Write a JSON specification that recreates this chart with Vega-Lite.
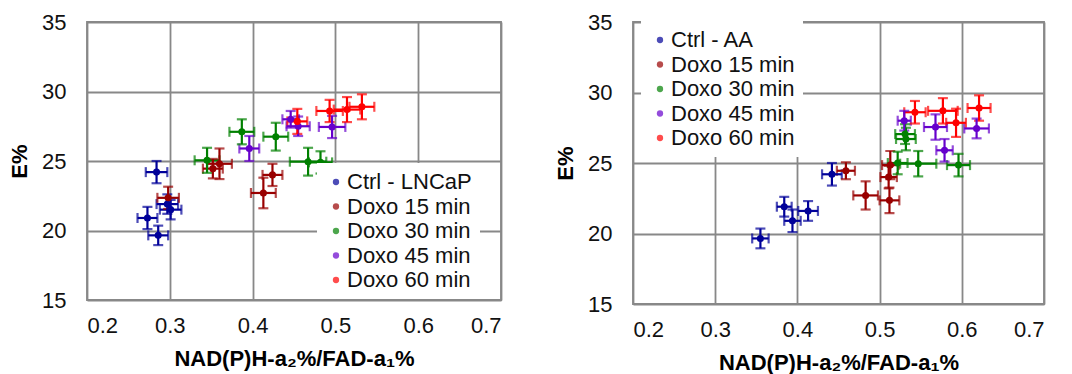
{
  "$schema": "https://vega.github.io/schema/vega-lite/v6.json",
  "padding": {"left": 7, "top": 10, "right": 5, "bottom": 0},
  "background": "white",
  "spacing": 51,
  "datasets": {
    "a": [
      {"g": "Ctrl - LNCaP", "x": 0.284, "y": 24.2, "ex": 0.013, "ey": 0.8},
      {"g": "Ctrl - LNCaP", "x": 0.297, "y": 21.9, "ex": 0.013, "ey": 0.7},
      {"g": "Ctrl - LNCaP", "x": 0.301, "y": 21.5, "ex": 0.013, "ey": 0.7},
      {"g": "Ctrl - LNCaP", "x": 0.273, "y": 20.9, "ex": 0.012, "ey": 0.8},
      {"g": "Ctrl - LNCaP", "x": 0.286, "y": 19.65, "ex": 0.012, "ey": 0.7},
      {"g": "Doxo 15 min", "x": 0.298, "y": 22.35, "ex": 0.013, "ey": 0.8},
      {"g": "Doxo 15 min", "x": 0.352, "y": 24.45, "ex": 0.012, "ey": 0.7},
      {"g": "Doxo 15 min", "x": 0.36, "y": 24.8, "ex": 0.015, "ey": 1.1},
      {"g": "Doxo 15 min", "x": 0.413, "y": 22.7, "ex": 0.015, "ey": 1.1},
      {"g": "Doxo 15 min", "x": 0.424, "y": 24.0, "ex": 0.012, "ey": 0.8},
      {"g": "Doxo 30 min", "x": 0.345, "y": 25.05, "ex": 0.015, "ey": 0.9},
      {"g": "Doxo 30 min", "x": 0.387, "y": 27.1, "ex": 0.015, "ey": 0.9},
      {"g": "Doxo 30 min", "x": 0.428, "y": 26.75, "ex": 0.015, "ey": 1.0},
      {"g": "Doxo 30 min", "x": 0.467, "y": 24.95, "ex": 0.022, "ey": 1.0},
      {"g": "Doxo 30 min", "x": 0.482, "y": 24.9, "ex": 0.014, "ey": 0.8},
      {"g": "Doxo 45 min", "x": 0.396, "y": 25.9, "ex": 0.012, "ey": 0.9},
      {"g": "Doxo 45 min", "x": 0.446, "y": 28.0, "ex": 0.01, "ey": 0.6},
      {"g": "Doxo 45 min", "x": 0.455, "y": 27.5, "ex": 0.014, "ey": 0.7},
      {"g": "Doxo 45 min", "x": 0.496, "y": 27.45, "ex": 0.016, "ey": 0.8},
      {"g": "Doxo 60 min", "x": 0.454, "y": 27.85, "ex": 0.012, "ey": 0.9},
      {"g": "Doxo 60 min", "x": 0.493, "y": 28.6, "ex": 0.016, "ey": 0.8},
      {"g": "Doxo 60 min", "x": 0.514, "y": 28.7, "ex": 0.016, "ey": 0.9},
      {"g": "Doxo 60 min", "x": 0.532, "y": 28.9, "ex": 0.015, "ey": 0.9}
    ],
    "b": [
      {"g": "Ctrl - AA", "x": 0.355, "y": 19.65, "ex": 0.01, "ey": 0.7},
      {"g": "Ctrl - AA", "x": 0.384, "y": 21.9, "ex": 0.009, "ey": 0.7},
      {"g": "Ctrl - AA", "x": 0.394, "y": 20.9, "ex": 0.01, "ey": 0.8},
      {"g": "Ctrl - AA", "x": 0.413, "y": 21.6, "ex": 0.012, "ey": 0.7},
      {"g": "Ctrl - AA", "x": 0.442, "y": 24.2, "ex": 0.012, "ey": 0.8},
      {"g": "Doxo 15 min", "x": 0.459, "y": 24.45, "ex": 0.011, "ey": 0.6},
      {"g": "Doxo 15 min", "x": 0.483, "y": 22.7, "ex": 0.015, "ey": 1.0},
      {"g": "Doxo 15 min", "x": 0.512, "y": 22.35, "ex": 0.012, "ey": 0.9},
      {"g": "Doxo 15 min", "x": 0.511, "y": 24.0, "ex": 0.01, "ey": 0.8},
      {"g": "Doxo 15 min", "x": 0.513, "y": 24.85, "ex": 0.01, "ey": 1.0},
      {"g": "Doxo 30 min", "x": 0.522, "y": 25.0, "ex": 0.012, "ey": 0.8},
      {"g": "Doxo 30 min", "x": 0.531, "y": 27.05, "ex": 0.012, "ey": 0.7},
      {"g": "Doxo 30 min", "x": 0.532, "y": 26.7, "ex": 0.012, "ey": 0.8},
      {"g": "Doxo 30 min", "x": 0.547, "y": 24.95, "ex": 0.022, "ey": 0.9},
      {"g": "Doxo 30 min", "x": 0.596, "y": 24.85, "ex": 0.014, "ey": 0.8},
      {"g": "Doxo 45 min", "x": 0.53, "y": 28.0, "ex": 0.008, "ey": 0.7},
      {"g": "Doxo 45 min", "x": 0.568, "y": 27.55, "ex": 0.014, "ey": 0.9},
      {"g": "Doxo 45 min", "x": 0.579, "y": 25.9, "ex": 0.01, "ey": 0.8},
      {"g": "Doxo 45 min", "x": 0.618, "y": 27.45, "ex": 0.015, "ey": 0.7},
      {"g": "Doxo 60 min", "x": 0.543, "y": 28.6, "ex": 0.013, "ey": 0.8},
      {"g": "Doxo 60 min", "x": 0.577, "y": 28.7, "ex": 0.018, "ey": 0.9},
      {"g": "Doxo 60 min", "x": 0.593, "y": 27.85, "ex": 0.012, "ey": 1.0},
      {"g": "Doxo 60 min", "x": 0.621, "y": 28.9, "ex": 0.014, "ey": 0.9}
    ]
  },
  "hconcat": [
    {
      "width": 414, "height": 278,
      "data": {"name": "a"},
      "encoding": {
        "x": {"field": "x", "type": "quantitative", "scale": {"domain": [0.2, 0.7], "nice": false, "zero": false}, "axis": {"values": [0.2, 0.3, 0.4, 0.5, 0.6, 0.7], "format": ".1f"}, "title": "NAD(P)H-a₂%/FAD-a₁%"},
        "y": {"field": "y", "type": "quantitative", "scale": {"domain": [15, 35], "nice": false, "zero": false}, "axis": {"values": [15, 20, 25, 30, 35]}, "title": "E%"},
        "color": {"field": "g", "type": "nominal", "scale": {"domain": ["Ctrl - LNCaP", "Doxo 15 min", "Doxo 30 min", "Doxo 45 min", "Doxo 60 min"], "range": ["#000099", "#990000", "#008000", "#6600cc", "#ff0000"]}, "legend": {"orient": "none", "legendX": 230, "legendY": 141, "title": null, "fillColor": "white", "padding": 8}}
      },
      "layer": [
        {"mark": {"type": "errorbar", "ticks": {"size": 10}, "thickness": 2.2}, "encoding": {"xError": {"field": "ex"}}},
        {"mark": {"type": "errorbar", "ticks": {"size": 10}, "thickness": 2.2}, "encoding": {"yError": {"field": "ey"}}},
        {"mark": {"type": "point", "filled": true, "size": 50, "opacity": 1}},
        {
          "data": {"values": [{"label": "a"}]},
          "mark": {"type": "text", "font": "Liberation Sans", "fontSize": 30, "fontWeight": "bold", "align": "center", "baseline": "alphabetic"},
          "encoding": {
            "x": {"datum": 0.649},
            "y": {"datum": 32.75},
            "color": {"value": "#000"},
            "text": {"field": "label"}
          }
        }
      ]
    },
    {
      "width": 411, "height": 282,
      "data": {"name": "b"},
      "encoding": {
        "x": {"field": "x", "type": "quantitative", "scale": {"domain": [0.2, 0.7], "nice": false, "zero": false}, "axis": {"values": [0.2, 0.3, 0.4, 0.5, 0.6, 0.7], "format": ".1f"}, "title": "NAD(P)H-a₂%/FAD-a₁%"},
        "y": {"field": "y", "type": "quantitative", "scale": {"domain": [15, 35], "nice": false, "zero": false}, "axis": {"values": [15, 20, 25, 30, 35]}, "title": "E%"},
        "color": {"field": "g", "type": "nominal", "scale": {"domain": ["Ctrl - AA", "Doxo 15 min", "Doxo 30 min", "Doxo 45 min", "Doxo 60 min"], "range": ["#000099", "#990000", "#008000", "#6600cc", "#ff0000"]}, "legend": {"orient": "none", "legendX": 8, "legendY": -1, "title": null, "fillColor": "white", "padding": 8}}
      },
      "layer": [
        {"mark": {"type": "errorbar", "ticks": {"size": 10}, "thickness": 2.2}, "encoding": {"xError": {"field": "ex"}}},
        {"mark": {"type": "errorbar", "ticks": {"size": 10}, "thickness": 2.2}, "encoding": {"yError": {"field": "ey"}}},
        {"mark": {"type": "point", "filled": true, "size": 50, "opacity": 1}},
        {
          "data": {"values": [{"label": "b"}]},
          "mark": {"type": "text", "font": "Liberation Sans", "fontSize": 30, "fontWeight": "bold", "align": "center", "baseline": "alphabetic"},
          "encoding": {
            "x": {"datum": 0.6516},
            "y": {"datum": 32.45},
            "color": {"value": "#000"},
            "text": {"field": "label"}
          }
        }
      ]
    }
  ],
  "resolve": {"scale": {"color": "independent"}, "legend": {"color": "independent"}},
  "config": {
    "font": "Liberation Sans",
    "view": {"stroke": "#888888", "strokeWidth": 1.8},
    "axis": {
      "labelFont": "Liberation Sans", "labelFontSize": 22, "labelColor": "#111",
      "titleFont": "Liberation Sans", "titleFontSize": 22, "titleFontWeight": "bold", "titleColor": "#000",
      "grid": true, "gridColor": "#888888", "gridWidth": 1.8, "gridOpacity": 1,
      "domain": false, "ticks": false
    },
    "axisX": {"labelPadding": 15, "titlePadding": 12},
    "axisY": {"labelPadding": 21, "titlePadding": 10},
    "legend": {
      "labelFont": "Liberation Sans", "labelFontSize": 22, "labelColor": "#111",
      "symbolType": "circle", "symbolSize": 40, "labelOffset": 0, "rowPadding": 2.5,
      "symbolStrokeWidth": 0
    }
  }
}
